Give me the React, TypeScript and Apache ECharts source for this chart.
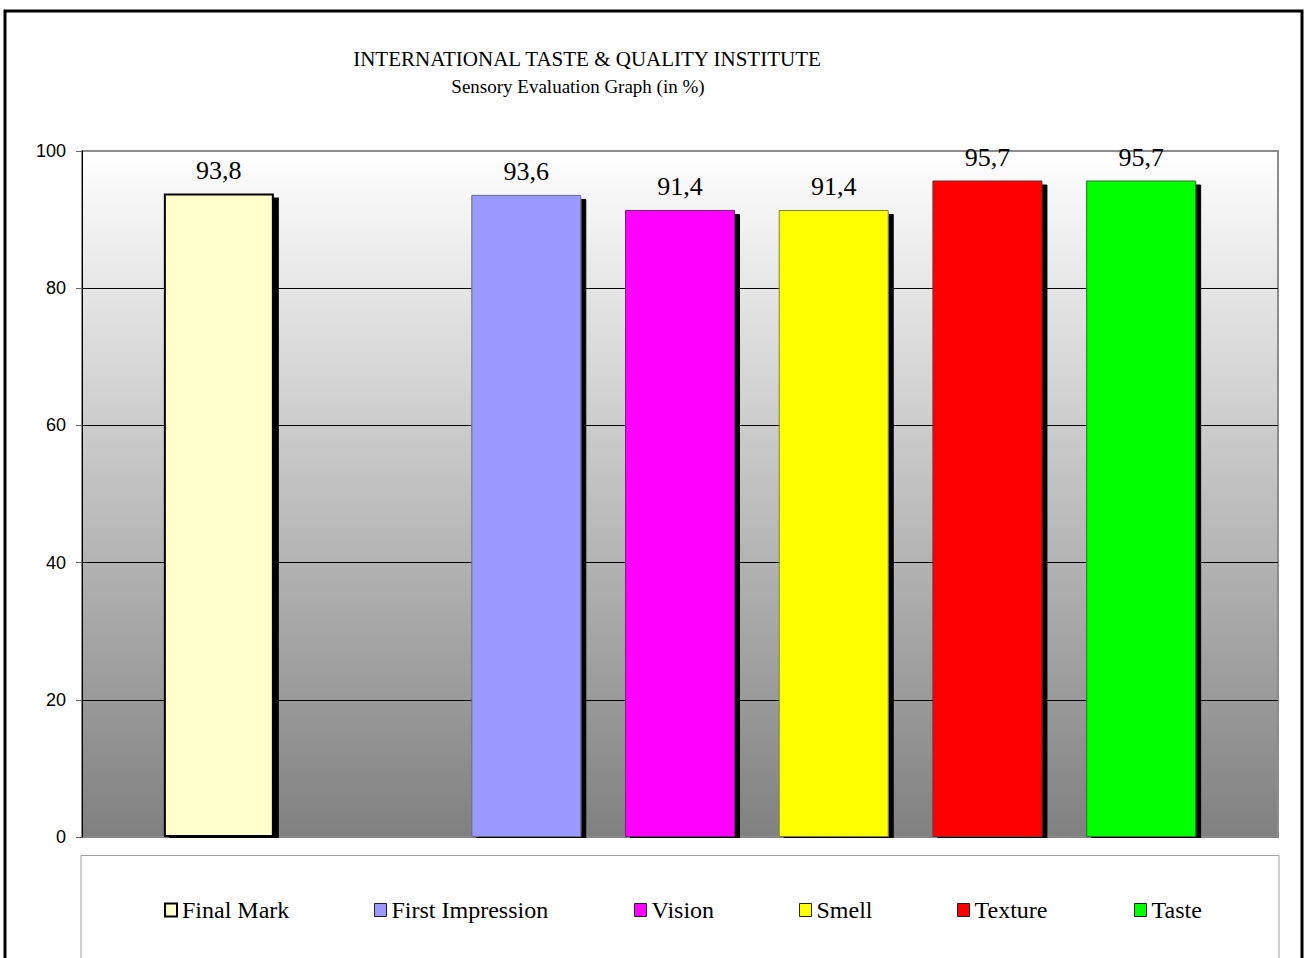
import React, { useEffect, useRef } from "react";
import * as echarts from "echarts";

const categories = ["Final Mark", "", "First Impression", "Vision", "Smell", "Texture", "Taste"];
const seriesNames = ["Final Mark", "First Impression", "Vision", "Smell", "Texture", "Taste"];
const values = [93.8, 93.6, 91.4, 91.4, 95.7, 95.7];
const yTickValues = [0, 20, 40, 60, 80, 100];
const titleText = "INTERNATIONAL TASTE & QUALITY INSTITUTE";
const subtitleText = "Sensory Evaluation Graph (in %)";

const barColors = ["#ffffcc", "#9999ff", "#ff00ff", "#ffff00", "#ff0000", "#00ff00"];
const barBorderColors = ["#000000", "#6a6a8a", "#7a207a", "#808040", "#703030", "#307030"];
const barBorderWidths = [2, 1, 1, 1, 1, 1];
const legendLefts = [164, 374, 634, 799, 957, 1134];

const SERIF = "Liberation Serif";
const SANS = "Liberation Sans";

export default function App() {
  const ref = useRef<HTMLDivElement>(null);
  useEffect(() => {
    if (!ref.current) return;
    const chart = echarts.init(ref.current, undefined, { renderer: "svg" });
    const yMin = yTickValues[0];
    const yMax = yTickValues[yTickValues.length - 1];
    const yStep = yTickValues[1] - yTickValues[0];

    const series = seriesNames.map((name, i) => ({
      name,
      type: "bar",
      xAxisIndex: 1,
      yAxisIndex: 1,
      barWidth: 110,
      barGap: "-100%",
      data: categories.map((c) => (c === name ? values[i] : "-")),
      itemStyle: {
        color: barColors[i],
        borderColor: barBorderColors[i],
        borderWidth: barBorderWidths[i],
        shadowColor: "#000",
        shadowBlur: 0,
        shadowOffsetX: 5,
        shadowOffsetY: 4,
      },
      label: {
        show: true,
        position: "top",
        distance: 10,
        fontFamily: SERIF,
        fontSize: 26,
        fontWeight: "normal",
        color: "#000",
        formatter: (p: any) => String(p.value).replace(".", ","),
      },
    }));

    const legends = seriesNames.map((name, i) => ({
      data: [name],
      left: legendLefts[i],
      top: 898,
      padding: 0,
      itemWidth: 12,
      itemHeight: 13,
      icon: "rect",
      selectedMode: false,
      textStyle: { fontFamily: SERIF, fontSize: 24, fontWeight: "normal", color: "#000" },
      itemStyle: {
        color: barColors[i],
        borderColor: i === 0 ? "#000" : "#222",
        borderWidth: i === 0 ? 2 : 1,
        shadowColor: "rgba(0,0,0,0)",
        shadowBlur: 0,
        shadowOffsetX: 0,
        shadowOffsetY: 0,
      },
    }));

    chart.setOption({
      animation: false,
      backgroundColor: "#ffffff",
      textStyle: { fontFamily: SERIF },
      title: [
        {
          text: titleText,
          left: 587,
          top: 48,
          textAlign: "center",
          padding: 0,
          textStyle: { fontFamily: SERIF, fontSize: 21, fontWeight: "normal", color: "#000" },
        },
        {
          text: subtitleText,
          left: 578,
          top: 77,
          textAlign: "center",
          padding: 0,
          textStyle: { fontFamily: SERIF, fontSize: 19, fontWeight: "normal", color: "#000" },
        },
      ],
      graphic: [
        {
          type: "rect",
          z: -10,
          shape: { x: 5, y: 11, width: 1297, height: 1000 },
          style: { fill: "none", stroke: "#000", lineWidth: 3 },
        },
        {
          type: "rect",
          z: 20,
          silent: true,
          shape: { x: 82, y: 838, width: 1200, height: 16 },
          style: { fill: "#fff" },
        },
        {
          type: "rect",
          z: -10,
          shape: { x: 81, y: 855.5, width: 1198, height: 200 },
          style: { fill: "#fff", stroke: "#a0a0a0", lineWidth: 1 },
        },
      ],
      legend: legends,
      grid: [
        {
          left: 82,
          right: 26,
          top: 151,
          bottom: 121,
          show: true,
          backgroundColor: new echarts.graphic.LinearGradient(0, 0, 0, 1, [
            { offset: 0, color: "#ffffff" },
            { offset: 1, color: "#808080" },
          ]),
          borderColor: "#8c8c8c",
          borderWidth: 2,
        },
        { left: 142, right: 86, top: 151, bottom: 121 },
      ],
      xAxis: [
        { gridIndex: 0, type: "value", min: 0, max: 1, show: false },
        { gridIndex: 1, type: "category", data: categories, show: false },
      ],
      yAxis: [
        {
          gridIndex: 0,
          type: "value",
          min: yMin,
          max: yMax,
          interval: yStep,
          axisLine: { show: true, lineStyle: { color: "#000", width: 1 } },
          axisTick: { show: true, length: 6, lineStyle: { color: "#666" } },
          axisLabel: { fontFamily: SANS, fontSize: 18, color: "#000", margin: 16 },
          splitLine: {
            show: true,
            lineStyle: {
              color: ["#808080", "#000", "#000", "#000", "#000", "#8c8c8c"],
              width: 1,
            },
          },
        },
        { gridIndex: 1, type: "value", min: yMin, max: yMax, show: false },
      ],
      series,
    });
    return () => chart.dispose();
  }, []);
  return (
    <div
      ref={ref}
      style={{ position: "absolute", left: 0, top: 0, width: 1304, height: 958 }}
    />
  );
}
